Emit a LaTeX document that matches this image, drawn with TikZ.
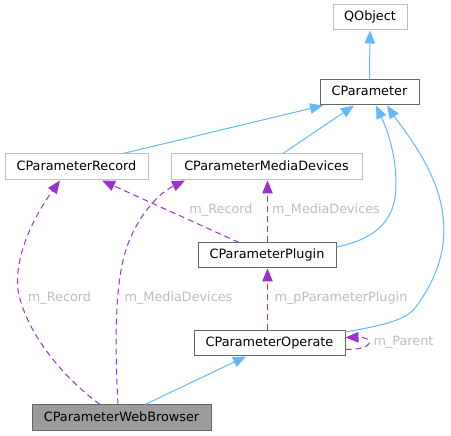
\documentclass[tikz,border=0pt]{standalone}
\usepackage{fontspec}
\setmainfont{DejaVu Sans}
\usetikzlibrary{arrows.meta}

\definecolor{edgeblue}{HTML}{63B8FF}
\definecolor{usepurple}{HTML}{9A32CD}
\definecolor{lightframe}{HTML}{BFBFBF}
\definecolor{darkframe}{HTML}{666666}
\definecolor{labelgrey}{HTML}{BEBEBE}

\tikzset{
  classbox/.style={rectangle, inner sep=0pt, minimum height=25pt, line width=1pt,
    text height=9.3pt, text depth=2.7pt, font=\fontsize{12.8}{14}\selectfont},
  lightbox/.style={classbox, draw=lightframe},
  darkbox/.style={classbox, draw=darkframe},
  inherit/.style={draw=edgeblue, line width=1pt, -{Triangle[length=13pt,width=10.5pt]}},
  usage/.style={draw=usepurple, line width=1pt, dash pattern=on 6pt off 4pt,
    -{Triangle[length=13pt,width=10.5pt]}},
  memberlabel/.style={text=labelgrey, inner sep=0pt, text height=9.3pt, text depth=2.7pt,
    font=\fontsize{12.8}{14}\selectfont}
}

\begin{document}
\begin{tikzpicture}[x=1pt,y=-1pt]
\useasboundingbox (0,0) rectangle (451,436);

% Classes
\node[lightbox, minimum width=74pt] (QObject) at (370,17.5) {QObject};
\node[darkbox, minimum width=99pt] (CParameter) at (369.5,92.5) {CParameter};
\node[lightbox, minimum width=143pt, minimum height=26pt] (Record) at (76.5,167) {CParameterRecord};
\node[lightbox, minimum width=191pt, minimum height=26pt] (MediaDevices) at (266.5,167) {CParameterMediaDevices};
\node[darkbox, minimum width=138pt] (Plugin) at (267,255.5) {CParameterPlugin};
\node[darkbox, minimum width=151pt] (Operate) at (269.5,343.5) {CParameterOperate};
\node[darkbox, fill=darkframe!65, minimum width=179pt, minimum height=26pt] (WebBrowser) at (121.5,418) {CParameterWebBrowser};

% Inheritance
\draw[inherit] (CParameter.north) -- (QObject.south);
\draw[inherit] ([xshift=46.5pt]Record.north) -- ([xshift=-46.5pt]CParameter.south);
\draw[inherit] ([xshift=16.5pt]MediaDevices.north) -- ([xshift=-15.5pt]CParameter.south);
\draw[inherit] ([yshift=8.5pt]Plugin.east) .. controls (370,240) and (396,225) .. (396,185)
  .. controls (396,150) and (385,125) .. ([xshift=6.5pt]CParameter.south);
\draw[inherit] ([yshift=11.5pt]Operate.east) .. controls (385,325) and (405,320) .. (415,308)
  .. controls (440,275) and (450,240) .. (440,200)
  .. controls (430,160) and (400,125) .. ([xshift=17.5pt]CParameter.south);
\draw[inherit] ([xshift=23.5pt]WebBrowser.north) -- ([xshift=-23.5pt]Operate.south);

% Members
\draw[usage] ([xshift=-28pt]Plugin.north) -- ([xshift=25.5pt]Record.south);
\node[memberlabel] (lblRecordA) at (221,210) {m\_Record};
\draw[usage] ([xshift=0.5pt]Plugin.north) -- ([xshift=0.5pt]Plugin.north |- MediaDevices.south);
\node[memberlabel] (lblMediaA) at (326,210) {m\_MediaDevices};
\draw[usage] ([xshift=0.5pt]Plugin.south |- Operate.north) -- ([xshift=0.5pt]Plugin.south);
\node[memberlabel] (lblPlugin) at (341,298) {m\_pParameterPlugin};
\draw[usage] ([yshift=-6pt]Operate.east) .. controls (375,350) and (375,337) .. ([yshift=6pt]Operate.east);
\node[memberlabel] (lblParent) at (403.5,342) {m\_Parent};
\draw[usage] ([xshift=-21.5pt]WebBrowser.north) .. controls (60,375) and (25,330) .. (18,290)
  .. controls (14,255) and (35,215) .. ([xshift=-16.5pt]Record.south);
\node[memberlabel] (lblRecordB) at (59.5,298) {m\_Record};
\draw[usage] ([xshift=-3.5pt]WebBrowser.north) .. controls (115,350) and (115,300) .. (122,265)
  .. controls (130,225) and (155,195) .. ([xshift=-81.5pt]MediaDevices.south);
\node[memberlabel] (lblMediaB) at (178.5,298) {m\_MediaDevices};
\end{tikzpicture}
\end{document}
